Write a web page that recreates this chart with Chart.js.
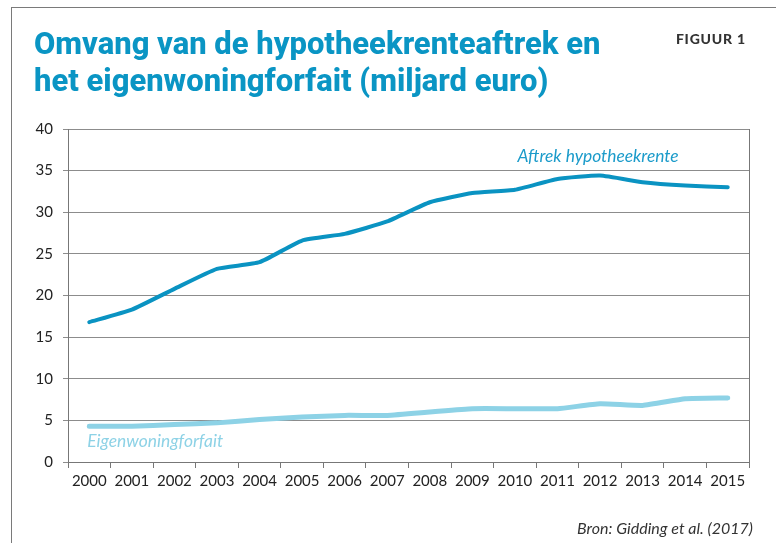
<!DOCTYPE html>
<html>
<head>
<meta charset="utf-8">
<script src="https://cdn.jsdelivr.net/npm/chart.js@4/dist/chart.umd.min.js"></script>
<style>
  html, body { margin: 0; padding: 0; background: #fff; }
  #wrap { position: relative; width: 776px; height: 543px; overflow: hidden; }
  #frame {
    position: absolute; left: 11px; top: 7px; width: 900px; height: 700px;
    border-left: 1.5px solid #7a7a7a; border-top: 1.5px solid #7a7a7a;
  }
  #chart { position: absolute; left: 0; top: 0; }
  h1 {
    position: absolute; left: 34px; top: 25px; margin: 0;
    font: 800 32px Roboto, sans-serif;
    line-height: 37px; color: #0a95c4; white-space: nowrap;
    transform-origin: 0 0;
  }
  h1 span { display: inline-block; }
  #fig {
    position: absolute; right: 30px; top: 32px;
    font: 900 14px Lato, sans-serif; line-height: 14px;
    letter-spacing: 0.8px; color: #333;
  }
  #source {
    position: absolute; right: 23px; top: 520px;
    font: italic 16px Lato, sans-serif; line-height: 16px; color: #333;
  }
</style>
</head>
<body>
<div id="wrap">
  <div id="frame"></div>
  <canvas id="chart" width="776" height="543"></canvas>
  <h1><span id="titleLine1">Omvang van de hypotheekrenteaftrek en</span><br><span>het eigenwoningforfait (miljard euro)</span></h1>
  <div id="fig">FIGUUR 1</div>
  <div id="source">Bron: Gidding et al. (2017)</div>
</div>

<script>
// ===============================
// DATA
// ===============================
const years = ['2000', '2001', '2002', '2003', '2004', '2005', '2006', '2007',
  '2008', '2009', '2010', '2011', '2012', '2013', '2014', '2015'];

const aftrekHypotheekrente = [16.8, 18.3, 20.8, 23.2, 24.0, 26.6, 27.4, 28.9,
  31.2, 32.3, 32.7, 34.0, 34.4, 33.6, 33.2, 33.0];

const eigenwoningforfait = [4.3, 4.3, 4.5, 4.7, 5.1, 5.4, 5.6, 5.6,
  6.0, 6.4, 6.4, 6.4, 7.0, 6.8, 7.6, 7.7];

const yMin = 0;
const yMax = 40;
const yStep = 5;

// inline series labels: anchored on a year and a value
const seriesLabels = [
  { text: 'Aftrek hypotheekrente', dataset: 0, year: '2012', value: 36.7, align: 'center' },
  { text: 'Eigenwoningforfait', dataset: 1, year: '2000', value: 2.5, align: 'left' }
];

// ===============================
// TITLE (condensed to the original width)
// ===============================
const titleWidth = 566;
const line1 = document.getElementById('titleLine1');
document.querySelector('h1').style.transform = `scaleX(${titleWidth / line1.offsetWidth})`;

// ===============================
// PLUGINS
// ===============================
const seriesLabelPlugin = {
  id: 'seriesLabels',
  afterDatasetsDraw(chart) {
    const { ctx, scales: { x, y } } = chart;
    ctx.save();
    ctx.font = 'italic 17.4px Lato, sans-serif';
    ctx.textBaseline = 'middle';
    seriesLabels.forEach(l => {
      ctx.fillStyle = chart.data.datasets[l.dataset].labelColor;
      ctx.textAlign = l.align;
      ctx.fillText(l.text, x.getPixelForValue(years.indexOf(l.year)) - 2, y.getPixelForValue(l.value));
    });
    ctx.restore();
  }
};

// ===============================
// CHART
// ===============================
const axisColor = '#777';
const tickFont = { family: 'Lato, sans-serif', size: 15 };

new Chart(document.getElementById('chart').getContext('2d'), {
  type: 'line',
  data: {
    labels: years,
    datasets: [
      {
        label: 'Aftrek hypotheekrente',
        data: aftrekHypotheekrente,
        borderColor: '#0a93c2',
        labelColor: '#1b9bca',
        borderWidth: 4,
        tension: 0.15,
        pointRadius: 0,
        borderCapStyle: 'round',
        borderJoinStyle: 'round'
      },
      {
        label: 'Eigenwoningforfait',
        data: eigenwoningforfait,
        borderColor: '#8dd2e6',
        labelColor: '#8dd2e6',
        borderWidth: 5,
        tension: 0.15,
        pointRadius: 0,
        borderCapStyle: 'round',
        borderJoinStyle: 'round'
      }
    ]
  },
  options: {
    responsive: false,
    animation: false,
    layout: { padding: { top: 129, right: 27, bottom: 50, left: 0 } },
    plugins: {
      legend: { display: false },
      tooltip: { enabled: false }
    },
    scales: {
      x: {
        offset: true,
        grid: { offset: true, drawOnChartArea: false, tickLength: 6, color: axisColor },
        border: { color: axisColor },
        ticks: { color: '#222', font: tickFont, padding: 4, maxRotation: 0, autoSkip: false },
        afterFit: s => { s.height = 31; s.paddingLeft = 0; s.paddingRight = 0; }
      },
      y: {
        min: yMin,
        max: yMax,
        ticks: { stepSize: yStep, color: '#222', font: tickFont, padding: 10 },
        grid: { color: '#8c8c8c', tickLength: 5 },
        border: { color: axisColor },
        afterFit: s => { s.width = 68; s.paddingTop = 0; s.paddingBottom = 0; }
      },
      yRight: {
        position: 'right',
        min: yMin,
        max: yMax,
        ticks: { display: false },
        grid: { display: false },
        border: { display: true, color: axisColor },
        afterFit: s => { s.width = 0; s.paddingTop = 0; s.paddingBottom = 0; }
      }
    }
  },
  plugins: [seriesLabelPlugin]
});
</script>
</body>
</html>
